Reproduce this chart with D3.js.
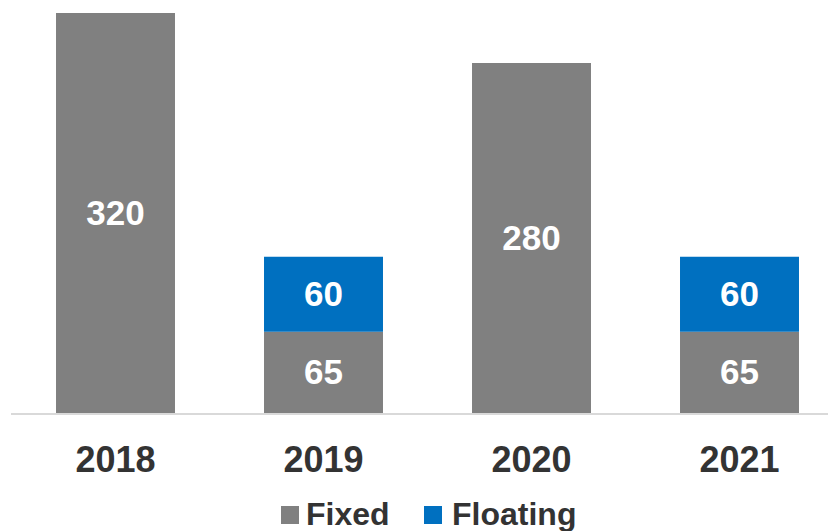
<!DOCTYPE html>
<html>
<head>
<meta charset="utf-8">
<script src="https://cdn.jsdelivr.net/npm/d3@7"></script>
<style>
  html, body { margin: 0; padding: 0; background: #fff; }
  svg { display: block; }
  text { font-family: "Liberation Sans", Arial, sans-serif; font-weight: bold; }
</style>
</head>
<body>
<svg id="chart" width="828" height="531"></svg>
<script>
const categories = ["2018", "2019", "2020", "2021"];
const fixedValues = [320, 65, 280, 65];
const floatingValues = [0, 60, 0, 60];
const seriesNames = ["Fixed", "Floating"];
const seriesColors = ["#808080", "#0070C0"];

const svg = d3.select("#chart");
const W = 828, H = 531;

const x = d3.scaleBand()
  .domain(categories)
  .range([11.5, 843.5])
  .paddingInner(0.428)
  .paddingOuter(0.214);

const y = d3.scaleLinear().domain([0, 320]).range([413, 13]);

const data = categories.map((c, i) => ({ cat: c, fixed: fixedValues[i], floating: floatingValues[i] }));
const stack = d3.stack().keys(["fixed", "floating"])(data);

stack.forEach((layer, li) => {
  const g = svg.append("g").attr("fill", seriesColors[li]);
  g.selectAll("rect").data(layer).join("rect")
    .attr("x", d => x(d.data.cat))
    .attr("width", x.bandwidth())
    .attr("y", d => y(d[1]))
    .attr("height", d => y(d[0]) - y(d[1]));
  svg.append("g").selectAll("text").data(layer.filter(d => d[1] - d[0] > 0)).join("text")
    .attr("x", d => x(d.data.cat) + x.bandwidth() / 2)
    .attr("y", d => (y(d[0]) + y(d[1])) / 2 + 12)
    .attr("text-anchor", "middle")
    .attr("fill", "#ffffff")
    .attr("font-size", 35)
    .text(d => d[1] - d[0]);
});

// baseline
svg.append("line")
  .attr("x1", 11).attr("x2", W)
  .attr("y1", 414).attr("y2", 414)
  .attr("stroke", "#cccccc").attr("stroke-width", 1.5);

// category labels
const xAxis = d3.axisBottom(x).tickSize(0).tickPadding(0);
const ax = svg.append("g").attr("transform", "translate(0,414)").call(xAxis);
ax.select(".domain").remove();
ax.selectAll("text")
  .attr("dy", null)
  .attr("y", 58)
  .attr("fill", "#333333")
  .attr("font-size", 36)
  .attr("font-family", "Liberation Sans, Arial, sans-serif")
  .attr("font-weight", "bold");

// legend
const legendItems = [
  { name: seriesNames[0], color: seriesColors[0], sx: 281, tx: 306 },
  { name: seriesNames[1], color: seriesColors[1], sx: 424, tx: 452 }
];
const lg = svg.append("g");
legendItems.forEach(it => {
  lg.append("rect").attr("x", it.sx).attr("y", 506).attr("width", 18).attr("height", 18).attr("fill", it.color);
  lg.append("text").attr("x", it.tx).attr("y", 525).attr("fill", "#333333").attr("font-size", 32).text(it.name);
});
</script>
</body>
</html>
